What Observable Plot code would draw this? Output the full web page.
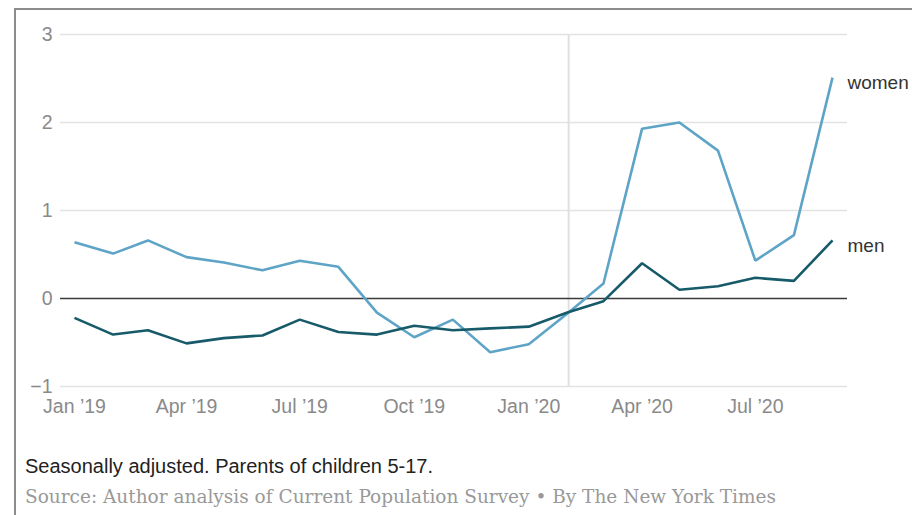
<!DOCTYPE html>
<html>
<head>
<meta charset="utf-8">
<script src="https://cdn.jsdelivr.net/npm/d3@7"></script>
<script src="https://cdn.jsdelivr.net/npm/@observablehq/plot@0.6"></script>
<style>
  html, body { margin: 0; padding: 0; background: #fff; overflow: hidden; }
  #frame {
    position: absolute; left: 14px; top: 8px; width: 1200px; height: 800px;
    border-left: 2px solid #8c8c8c; border-top: 2px solid #8c8c8c;
  }
  #chart { position: absolute; left: 0; top: 0; }
  .note {
    position: absolute; left: 25px; top: 455px; line-height: 22px;
    font: 20px "Liberation Sans", Arial, sans-serif; color: #222; white-space: nowrap;
  }
  .source {
    position: absolute; left: 25px; top: 486px; line-height: 22px;
    font: 18.5px "DejaVu Serif", Georgia, serif; color: #999; white-space: nowrap;
  }
</style>
</head>
<body>
<div id="frame"></div>
<div id="chart"></div>
<div class="note">Seasonally adjusted. Parents of children 5-17.</div>
<div class="source">Source: Author analysis of Current Population Survey • By The New York Times</div>
<script>
// Monthly change, January 2019 – September 2020
const months = [
  "2019-01", "2019-02", "2019-03", "2019-04", "2019-05", "2019-06",
  "2019-07", "2019-08", "2019-09", "2019-10", "2019-11", "2019-12",
  "2020-01", "2020-02", "2020-03", "2020-04", "2020-05", "2020-06",
  "2020-07", "2020-08", "2020-09"
];
const women = [0.64, 0.51, 0.66, 0.47, 0.41, 0.32, 0.43, 0.36, -0.16, -0.44, -0.24, -0.61,
               -0.52, -0.17, 0.17, 1.93, 2.00, 1.68, 0.43, 0.72, 2.51];
const men = [-0.22, -0.41, -0.36, -0.51, -0.45, -0.42, -0.24, -0.38, -0.41, -0.31, -0.36, -0.34,
             -0.32, -0.16, -0.03, 0.40, 0.10, 0.14, 0.235, 0.20, 0.66];
const seriesNames = ["women", "men"];
const seriesColors = ["#5ea4c6", "#175a69"];

const yTicks = [-1, 0, 1, 2, 3];
const xTickMonths = ["2019-01", "2019-04", "2019-07", "2019-10", "2020-01", "2020-04", "2020-07"];
const markerDate = "2020-02-02"; // onset of the pandemic period

const parseMonth = d3.utcParse("%Y-%m");
const parseDay = d3.utcParse("%Y-%m-%d");

const rows = [];
months.forEach((m, i) => {
  rows.push({date: parseMonth(m), value: women[i], series: seriesNames[0]});
  rows.push({date: parseMonth(m), value: men[i], series: seriesNames[1]});
});
const lastRows = seriesNames.map(s => rows.filter(r => r.series === s).at(-1));

const fmtMonth = d3.utcFormat("%b");
const fmtYear = d3.utcFormat("%y");
const tickFmt = d => `${fmtMonth(d)} \u2019${fmtYear(d)}`;

const chart = Plot.plot({
  width: 912,
  height: 425,
  marginLeft: 60,
  marginRight: 65,
  marginTop: 34,
  marginBottom: 39,
  insetLeft: 14,
  insetRight: 15,
  style: {
    fontFamily: "'Liberation Sans', Arial, sans-serif",
    fontSize: "19.5px",
    color: "#8a8a8a",
    background: "transparent",
    overflow: "visible"
  },
  x: {
    type: "utc",
    domain: [parseMonth(months[0]), parseMonth(months.at(-1))],
    ticks: xTickMonths.map(parseMonth),
    tickFormat: tickFmt,
    tickSize: 0,
    tickPadding: 13,
    label: null
  },
  y: {
    domain: [-1, 3],
    ticks: yTicks,
    tickFormat: d => (d < 0 ? "\u2212" + Math.abs(d) : String(d)),
    tickSize: 0,
    tickPadding: 8,
    label: null
  },
  color: {domain: seriesNames, range: seriesColors},
  marks: [
    Plot.ruleY(yTicks.filter(v => v !== 0), {stroke: "#e3e3e3", strokeWidth: 1.5}),
    Plot.ruleX([parseDay(markerDate)], {stroke: "#dde1e6", strokeWidth: 2}),
    Plot.ruleY([0], {stroke: "#3a3a3a", strokeWidth: 1.3}),
    Plot.line(rows, {
      x: "date", y: "value", z: "series", stroke: "series",
      strokeWidth: 2.6, strokeLinejoin: "miter", strokeLinecap: "butt"
    }),
    Plot.text(lastRows, {
      x: "date", y: "value", text: "series",
      textAnchor: "start", dx: 15, dy: 5,
      fill: "#333", fontSize: 19
    })
  ]
});

document.getElementById("chart").append(chart);
</script>
</body>
</html>
